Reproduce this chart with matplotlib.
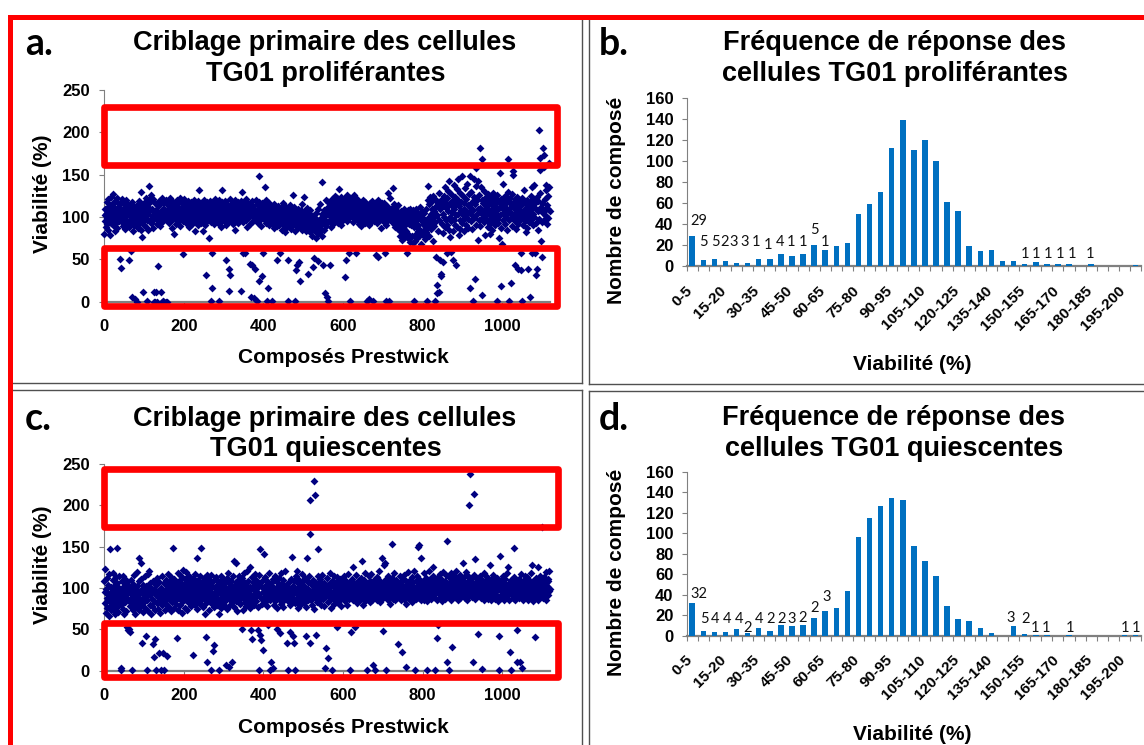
import numpy as np
import matplotlib
matplotlib.use('Agg')
import matplotlib.pyplot as plt
from matplotlib.patches import Rectangle
from matplotlib.lines import Line2D

plt.rcParams['font.family'] = ['Liberation Sans', 'DejaVu Sans']

# Viabilité (%) de chaque composé Prestwick, dans l'ordre du criblage
viab_prolif = [
    80, 102, 95, 110, 88, 104, 118, 92, 99, 85, 121, 107, 96, 113, 79, 101, 124, 93, 108, 98,
    115, 103, 90, 127, 97, 112, 84, 106, 119, 100, 93, 122, 109, 87, 116, 101, 95, 111, 104, 51,
    98, 117, 40, 105, 121, 94, 110, 89, 103, 118, 99, 114, 86, 107, 120, 96, 111, 102, 92, 115,
    104, 88, 109, 49, 97, 113, 60, 101, 93, 6, 118, 84, 106, 99, 112, 91, 108, 3, 96, 103,
    110, 94, 100, 0, 87, 115, 105, 92, 119, 98, 107, 130, 85, 111, 101, 76, 12, 109, 95, 116,
    102, 90, 114, 99, 123, 88, 106, 97, 1, 112, 104, 85, 120, 137, 96, 108, 118, 93, 126, 101,
    110, 95, 121, 87, 0, 104, 12, 116, 0, 99, 108, 12, 92, 0, 113, 102, 42, 119, 97, 106,
    89, 115, 12, 101, 123, 0, 94, 1, 110, 105, 0, 117, 98, 108, 120, 0, 103, 96, 0, 114,
    107, 118, 93, 111, 100, 122, 95, 109, 116, 87, 104, 119, 98, 113, 106, 80, 117, 101, 110, 92,
    115, 103, 120, 97, 108, 112, 94, 118, 105, 100, 123, 89, 111, 107, 99, 116, 102, 95, 56, 110,
    104, 121, 98, 113, 107, 93, 117, 101, 110, 96, 119, 105, 88, 112, 100, 115, 97, 108, 103, 118,
    92, 109, 114, 99, 106, 120, 95, 111, 84, 102, 116, 97, 108, 104, 113, 90, 119, 100, 107, 132,
    98, 111, 105, 117, 93, 109, 101, 114, 96, 83, 120, 106, 99, 112, 91, 31, 104, 118, 95, 108,
    102, 115, 97, 110, 75, 106, 119, 94, 1, 108, 16, 57, 113, 100, 117, 92, 105, 111, 98, 121,
    104, 96, 112, 108, 99, 116, 93, 107, 120, 1, 101, 114, 88, 109, 103, 118, 132, 95, 111, 100,
    106, 113, 97, 119, 102, 90, 110, 49, 104, 115, 94, 108, 99, 39, 13, 121, 32, 101, 112, 96,
    109, 103, 117, 92, 106, 114, 98, 111, 85, 120, 100, 107, 95, 116, 104, 110, 93, 118, 102, 108,
    97, 113, 105, 13, 119, 130, 101, 109, 57, 94, 115, 100, 107, 57, 112, 96, 121, 103, 88, 110,
    104, 117, 99, 108, 114, 92, 44, 106, 6, 111, 101, 119, 43, 95, 113, 103, 109, 4, 39, 98,
    120, 107, 100, 115, 1, 93, 110, 104, 118, 24, 148, 97, 112, 102, 108, 89, 30, 116, 99, 106,
    57, 114, 101, 135, 96, 109, 120, 93, 105, 111, 1, 98, 16, 117, 103, 90, 108, 113, 100, 95,
    106, 92, 1, 112, 99, 104, 87, 115, 97, 101, 110, 94, 108, 49, 100, 89, 113, 96, 105, 91,
    103, 57, 98, 111, 93, 106, 85, 100, 109, 95, 117, 90, 102, 97, 107, 82, 112, 99, 94, 104,
    88, 49, 1, 108, 101, 96, 114, 92, 103, 86, 110, 98, 105, 91, 100, 126, 95, 112, 84, 1,
    99, 106, 37, 93, 102, 43, 88, 110, 96, 104, 47, 90, 101, 24, 97, 108, 85, 94, 115, 92,
    103, 89, 124, 98, 95, 107, 84, 100, 93, 111, 87, 102, 96, 33, 91, 105, 99, 82, 108, 94,
    90, 85, 97, 78, 101, 41, 88, 52, 94, 83, 99, 75, 92, 105, 86, 96, 80, 110, 48, 91,
    87, 98, 115, 82, 95, 90, 141, 103, 77, 93, 43, 100, 85, 108, 10, 96, 120, 89, 104, 6,
    111, 94, 118, 1, 102, 106, 97, 43, 113, 88, 108, 121, 100, 115, 92, 104, 119, 98, 110, 125,
    103, 116, 96, 109, 122, 101, 112, 93, 107, 118, 133, 105, 99, 114, 124, 90, 110, 120, 102, 117,
    108, 97, 121, 113, 104, 29, 115, 49, 100, 126, 110, 95, 119, 106, 112, 99, 57, 1, 123, 103,
    116, 108, 101, 120, 94, 113, 105, 118, 126, 99, 110, 102, 57, 115, 107, 96, 121, 104, 111, 92,
    106, 117, 99, 112, 103, 89, 115, 108, 95, 120, 101, 111, 97, 106, 118, 93, 104, 113, 100, 1,
    109, 96, 114, 102, 107, 91, 3, 117, 100, 110, 94, 105, 119, 98, 112, 103, 1, 108, 95, 116,
    101, 113, 97, 106, 55, 111, 93, 104, 53, 120, 99, 108, 115, 96, 102, 109, 87, 117, 105, 100,
    112, 98, 107, 94, 116, 57, 103, 110, 91, 1, 105, 113, 128, 100, 96, 1, 109, 102, 122, 97,
    108, 104, 95, 111, 99, 106, 134, 92, 115, 101, 88, 109, 97, 112, 103, 93, 107, 100, 86, 114,
    96, 85, 102, 91, 78, 107, 88, 99, 73, 94, 104, 82, 90, 110, 86, 97, 76, 92, 100, 84,
    57, 105, 80, 99, 108, 74, 92, 96, 110, 71, 90, 103, 101, 77, 94, 108, 69, 96, 88, 1,
    95, 103, 72, 109, 80, 98, 75, 105, 83, 90, 101, 86, 78, 112, 84, 100, 68, 97, 81, 107,
    92, 79, 98, 85, 105, 74, 89, 96, 82, 110, 1, 93, 87, 120, 137, 100, 77, 115, 91, 124,
    103, 86, 118, 95, 110, 72, 125, 99, 107, 89, 121, 1, 94, 113, 53, 10, 102, 20, 116, 83,
    128, 12, 97, 109, 49, 120, 30, 33, 92, 114, 104, 81, 47, 125, 100, 88, 118, 135, 96, 111,
    58, 122, 90, 107, 131, 143, 85, 115, 100, 76, 127, 59, 95, 119, 106, 83, 112, 49, 138, 97,
    109, 124, 91, 116, 102, 43, 133, 88, 145, 104, 120, 79, 113, 97, 128, 86, 108, 118, 93, 103,
    148, 96, 125, 110, 84, 117, 134, 99, 107, 90, 121, 103, 139, 87, 114, 98, 127, 106, 148, 16,
    112, 95, 130, 102, 118, 86, 108, 1, 124, 99, 145, 27, 115, 91, 137, 158, 104, 120, 73, 110,
    143, 97, 126, 111, 89, 181, 135, 105, 168, 8, 120, 100, 116, 131, 94, 108, 79, 123, 113, 102,
    118, 96, 109, 127, 88, 114, 103, 121, 92, 106, 80, 115, 99, 124, 110, 85, 119, 101, 128, 95,
    107, 122, 90, 113, 104, 117, 98, 126, 1, 109, 93, 119, 75, 111, 152, 102, 121, 87, 18, 114,
    68, 105, 139, 96, 116, 108, 125, 92, 112, 100, 120, 85, 118, 103, 130, 168, 97, 110, 1, 123,
    106, 115, 22, 99, 127, 89, 154, 112, 150, 104, 118, 95, 43, 121, 108, 86, 114, 101, 124, 92,
    39, 110, 103, 119, 97, 113, 37, 57, 106, 1, 122, 91, 116, 100, 108, 132, 95, 117, 104, 82,
    111, 99, 120, 87, 107, 39, 115, 102, 94, 118, 5, 109, 125, 97, 57, 113, 136, 104, 90, 121,
    100, 138, 57, 116, 93, 31, 110, 39, 124, 85, 107, 119, 203, 98, 128, 170, 155, 72, 112, 94,
    117, 53, 105, 181, 159, 173, 96, 121, 108, 132, 138, 101, 114, 92, 125, 110, 99, 135, 164, 107,
]

viab_quiesc = [
    108, 95, 82, 123, 70, 99, 88, 112, 76, 93, 104, 66, 85, 117, 147, 90, 79, 101, 73, 96,
    86, 110, 118, 74, 92, 102, 68, 97, 81, 113, 89, 148, 77, 106, 94, 71, 100, 84, 115, 90,
    98, 3, 80, 1, 108, 87, 114, 75, 95, 103, 69, 91, 111, 83, 99, 72, 107, 88, 53, 96,
    49, 84, 50, 101, 47, 78, 93, 110, 86, 1, 97, 74, 105, 89, 81, 116, 92, 68, 100, 85,
    77, 103, 90, 119, 82, 96, 108, 136, 73, 94, 86, 111, 130, 79, 34, 99, 88, 104, 71, 92,
    83, 97, 114, 76, 89, 42, 102, 85, 1, 93, 72, 117, 98, 121, 80, 106, 91, 68, 100, 87,
    95, 78, 109, 32, 84, 99, 17, 38, 73, 1, 91, 104, 82, 112, 89, 75, 96, 22, 107, 86,
    93, 70, 100, 1, 88, 115, 79, 21, 97, 84, 1, 106, 74, 92, 110, 81, 99, 87, 18, 103,
    90, 117, 77, 95, 108, 86, 101, 72, 113, 94, 83, 104, 89, 148, 98, 76, 111, 92, 85, 100,
    107, 81, 39, 96, 118, 88, 74, 103, 93, 110, 79, 99, 86, 114, 91, 70, 105, 97, 84, 122,
    89, 102, 76, 111, 94, 85, 119, 98, 73, 107, 90, 100, 82, 115, 96, 87, 104, 78, 109, 93,
    101, 84, 97, 112, 19, 90, 106, 79, 95, 117, 88, 103, 75, 99, 136, 92, 110, 83, 97, 105,
    86, 114, 95, 80, 149, 101, 91, 108, 77, 98, 112, 87, 69, 104, 93, 41, 82, 100, 116, 10,
    89, 106, 74, 97, 110, 85, 99, 1, 92, 116, 81, 103, 24, 90, 108, 77, 31, 95, 100, 86,
    113, 91, 79, 104, 96, 87, 109, 68, 98, 1, 83, 101, 93, 115, 76, 106, 89, 97, 84, 111,
    94, 102, 80, 107, 91, 98, 86, 7, 112, 75, 100, 93, 118, 5, 88, 96, 105, 79, 92, 108,
    83, 99, 11, 114, 90, 103, 133, 77, 95, 88, 130, 107, 84, 101, 72, 97, 110, 91, 86, 115,
    99, 81, 104, 93, 89, 51, 112, 96, 74, 108, 87, 100, 118, 83, 95, 106, 78, 92, 102, 121,
    88, 97, 109, 82, 94, 126, 101, 76, 49, 90, 113, 85, 38, 99, 107, 93, 80, 104, 117, 89,
    96, 84, 110, 91, 100, 77, 105, 49, 93, 116, 1, 147, 43, 88, 37, 102, 81, 108, 95, 86,
    25, 99, 141, 90, 113, 83, 104, 94, 78, 109, 97, 87, 55, 101, 92, 118, 1, 85, 106, 96,
    10, 89, 103, 3, 95, 111, 80, 98, 90, 115, 84, 100, 93, 51, 107, 76, 97, 88, 112, 92,
    103, 46, 86, 99, 118, 81, 94, 105, 90, 77, 110, 96, 85, 101, 92, 120, 88, 104, 33, 97,
    91, 84, 1, 107, 95, 100, 79, 47, 111, 89, 98, 137, 86, 103, 93, 42, 108, 33, 82, 1,
    95, 114, 87, 99, 120, 83, 106, 92, 76, 110, 97, 88, 104, 80, 101, 93, 117, 85, 98, 109,
    90, 103, 82, 96, 112, 88, 100, 77, 42, 94, 136, 107, 85, 99, 91, 115, 33, 165, 206, 93,
    86, 104, 97, 80, 110, 92, 101, 75, 229, 212, 95, 88, 43, 106, 99, 83, 114, 90, 147, 102,
    93, 108, 85, 111, 97, 80, 103, 91, 116, 87, 100, 78, 106, 95, 89, 3, 27, 104, 92, 99,
    112, 15, 83, 97, 105, 90, 118, 86, 101, 94, 76, 1, 109, 93, 88, 103, 97, 81, 115, 92,
    100, 87, 107, 95, 113, 53, 90, 98, 82, 104, 96, 89, 111, 85, 102, 93, 78, 108, 99, 91,
    95, 106, 88, 114, 92, 101, 84, 98, 109, 90, 103, 79, 96, 117, 87, 100, 93, 1, 107, 47,
    102, 89, 98, 111, 94, 85, 125, 97, 106, 91, 53, 103, 88, 116, 95, 100, 82, 108, 93, 99,
    90, 104, 97, 86, 112, 101, 93, 133, 88, 107, 95, 80, 110, 99, 91, 118, 84, 103, 96, 1,
    105, 92, 99, 87, 114, 96, 101, 83, 108, 94, 90, 117, 98, 86, 104, 93, 7, 110, 89, 100,
    1, 95, 107, 91, 102, 85, 113, 97, 88, 104, 99, 120, 92, 83, 109, 96, 101, 87, 94, 136,
    106, 48, 97, 128, 93, 130, 100, 89, 111, 1, 95, 103, 86, 115, 98, 92, 107, 81, 101, 94,
    90, 104, 112, 96, 153, 87, 99, 108, 93, 118, 85, 101, 95, 110, 88, 97, 106, 91, 103, 32,
    97, 89, 114, 100, 92, 107, 85, 23, 103, 96, 111, 90, 99, 87, 116, 94, 102, 81, 4, 108,
    93, 105, 98, 88, 119, 95, 101, 86, 110, 97, 91, 104, 83, 100, 113, 92, 107, 96, 89, 121,
    99, 1, 94, 108, 87, 102, 96, 115, 91, 150, 104, 152, 88, 97, 110, 93, 136, 85, 101, 106,
    92, 109, 98, 86, 118, 95, 103, 90, 112, 97, 84, 1, 100, 107, 93, 120, 88, 104, 96, 111,
    94, 101, 87, 108, 99, 115, 125, 92, 104, 89, 97, 110, 1, 95, 103, 40, 86, 112, 98, 55,
    106, 93, 100, 117, 88, 102, 95, 111, 84, 98, 107, 91, 119, 96, 103, 87, 109, 94, 100, 116,
    157, 10, 92, 105, 98, 113, 89, 1, 101, 95, 108, 86, 118, 29, 97, 104, 91, 110, 99, 93,
    106, 89, 114, 97, 102, 120, 93, 108, 85, 100, 111, 96, 104, 88, 116, 99, 92, 107, 101, 95,
    110, 97, 130, 91, 104, 113, 88, 101, 96, 119, 93, 107, 85, 102, 115, 99, 90, 200, 238, 106,
    94, 103, 111, 89, 98, 107, 92, 10, 116, 214, 100, 135, 87, 105, 96, 112, 91, 101, 108, 95,
    44, 99, 106, 90, 114, 97, 103, 88, 110, 95, 2, 101, 93, 118, 86, 104, 98, 109, 92, 100,
    105, 91, 113, 96, 102, 87, 108, 99, 94, 128, 90, 103, 85, 111, 97, 106, 100, 89, 116, 93,
    101, 95, 108, 87, 104, 92, 112, 98, 90, 106, 84, 1, 42, 99, 139, 103, 88, 110, 96, 93,
    100, 107, 91, 115, 97, 86, 104, 93, 111, 98, 89, 102, 95, 118, 92, 126, 99, 106, 85, 23,
    103, 94, 110, 1, 97, 108, 88, 101, 96, 149, 113, 90, 104, 86, 99, 107, 10, 93, 49, 101,
    95, 111, 88, 102, 10, 98, 106, 91, 117, 3, 100, 93, 109, 85, 104, 97, 114, 89, 101, 96,
    107, 92, 99, 113, 86, 104, 95, 110, 90, 101, 97, 118, 88, 106, 93, 128, 99, 84, 109, 96,
    102, 91, 41, 105, 97, 112, 89, 100, 94, 108, 86, 126, 98, 103, 92, 115, 96, 107, 90, 101,
    174, 95, 110, 88, 104, 97, 113, 92, 100, 106, 85, 119, 94, 102, 108, 91, 111, 97, 121, 99,
]

# Histogrammes : nombre de composés par classe de viabilité (41 classes de 5 %)
freq_prolif = [29, 6, 7, 5, 3, 3, 7, 7, 11, 10, 11, 20, 15, 19, 22, 50, 59, 71, 113, 139,
               111, 120, 100, 61, 52, 19, 14, 15, 5, 5, 2, 4, 2, 2, 2, 0, 2, 0, 0, 0, 1]
freq_quiesc = [32, 5, 4, 4, 7, 3, 8, 5, 10, 9, 10, 17, 24, 27, 44, 96, 115, 127, 134, 132,
               88, 73, 58, 29, 16, 14, 8, 3, 0, 9, 2, 1, 1, 0, 1, 0, 0, 0, 0, 1, 1]
classes_shown = ['0-5', '15-20', '30-35', '45-50', '60-65', '75-80', '90-95', '105-110',
                 '120-125', '135-140', '150-155', '165-170', '180-185', '195-200']

# étiquettes ajoutées au-dessus des barres (texte, puis position x / y)
lab_prolif = ['29', '5', '5', '2', '3', '3', '1', '1', '4', '1', '1', '5', '1',
              '1', '1', '1', '1', '1', '1']
lab_prolif_x = [0.6, 1.05, 2.05, 2.9, 3.7, 4.75, 5.75, 6.8, 7.9, 8.95, 10, 11, 12,
                30.05, 31.05, 32.1, 33.2, 34.3, 35.9]
lab_prolif_y = [43, 22.6, 22.6, 22.6, 22.6, 22.6, 22.6, 20, 22.6, 22.6, 22.6, 34.4, 22.6,
                11.5, 11.5, 11.5, 11.5, 11.5, 11.5]
lab_quiesc = ['32', '5', '4', '4', '4', '2', '4', '2', '2', '3', '2', '2', '3',
              '3', '2', '1', '1', '1', '1', '1']
lab_quiesc_x = [0.57, 1.08, 2.08, 3.16, 4.24, 4.99, 6.05, 7.1, 8.09, 8.99, 9.98, 11.04, 12.09,
                28.78, 30.1, 30.95, 31.94, 34.05, 39.04, 40.06]
lab_quiesc_y = [40.6, 16.3, 16.3, 16.3, 16.3, 7.2, 16.3, 16.3, 16.3, 16.3, 17.5, 26.7, 37.4,
                17.6, 16.3, 7.2, 7.2, 7.2, 7.2, 7.2]

W, H = 1144, 745
NAVY = '#000080'
BLUE = '#0070C0'
RED = '#FF0000'
GREY = '#808080'

fig = plt.figure(figsize=(W / 100, H / 100), dpi=100)


def fx(px):
    return px / W


def fy(py):
    return 1 - py / H


def ax_rect(left, top, right, bottom):
    return [fx(left), fy(bottom), (right - left) / W, (bottom - top) / H]


def style_axes(ax):
    for s in ['top', 'right']:
        ax.spines[s].set_visible(False)
    ax.spines['left'].set_color(GREY)
    ax.spines['left'].set_linewidth(0.8)
    ax.spines['bottom'].set_color(GREY)
    ax.spines['bottom'].set_linewidth(1.6)
    ax.tick_params(axis='both', colors='black', labelsize=12, direction='out', length=3.5, width=0.8)
    ax.tick_params(axis='both', which='both', color=GREY)
    for lab in ax.get_yticklabels():
        lab.set_fontweight('bold')


def scatter_panel(rect, values, boxes):
    ax = fig.add_axes(rect)
    ax.scatter(np.arange(len(values)), values, s=16, marker='D', color=NAVY,
               linewidths=0, clip_on=False, zorder=3)
    ax.set_xlim(0, 1120)
    ax.set_ylim(0, 250)
    ax.set_xticks(range(0, 1001, 200))
    ax.set_yticks(range(0, 251, 50))
    style_axes(ax)
    ax.tick_params(axis='x', pad=9)
    ax.tick_params(axis='y', pad=7)
    for lab in ax.get_xticklabels():
        lab.set_fontweight('bold')
    for (x0, y0, x1, y1) in boxes:
        ax.add_patch(Rectangle((x0, y0), x1 - x0, y1 - y0, fill=False, ec=RED, lw=4.8,
                               joinstyle='round', clip_on=False, zorder=5))
    return ax


def hist_panel(rect, counts, labels, lab_x, lab_y):
    ax = fig.add_axes(rect)
    pos = np.arange(len(counts))
    ax.bar(pos, counts, width=0.5, color=BLUE, zorder=3)
    ax.set_xlim(-0.5, len(counts) - 0.5)
    ax.set_ylim(0, 160)
    ax.set_yticks(range(0, 161, 20))
    ax.set_xticks(np.arange(0, len(counts), 3) - 0.15, classes_shown)
    ax.set_xticks(np.arange(-0.5, len(counts), 1), minor=True)
    style_axes(ax)
    ax.tick_params(axis='x', which='major', length=0, pad=16)
    ax.tick_params(axis='x', which='minor', length=3.5, width=0.8, color=GREY)
    ax.tick_params(axis='y', pad=6)
    for lab in ax.get_xticklabels():
        lab.set_rotation(45)
        lab.set_ha('right')
        lab.set_va('center')
        lab.set_rotation_mode('anchor')
        lab.set_fontsize(11)
        lab.set_fontweight('bold')
    for t, x, y in zip(labels, lab_x, lab_y):
        ax.text(x, y, t, ha='center', va='center', fontsize=10.5,
                family=['Lato', 'DejaVu Sans'], color='#111111')
    return ax


# panneaux a et c : criblage primaire
scatter_panel(ax_rect(104.3, 90, 550, 301.7), viab_prolif,
              [(0, 161.4, 1138, 229.6), (0, -4.7, 1138, 63.8)])
scatter_panel(ax_rect(104.3, 464, 550, 670.7), viab_quiesc,
              [(0, 174, 1140, 243.6), (0, -7.3, 1140, 57.3)])

# panneaux b et d : fréquences
hist_panel(ax_rect(686.7, 98.3, 1141, 266), freq_prolif, lab_prolif, lab_prolif_x, lab_prolif_y)
hist_panel(ax_rect(686.7, 471.7, 1141, 635.7), freq_quiesc, lab_quiesc, lab_quiesc_x, lab_quiesc_y)

# titres
title_kw = dict(ha='center', va='baseline', fontsize=19.5, fontweight='bold')
fig.text(fx(325), fy(49.5), 'Criblage primaire des cellules', **title_kw)
fig.text(fx(326), fy(81), 'TG01 proliférantes', **title_kw)
fig.text(fx(895), fy(49.5), 'Fréquence de réponse des', **title_kw)
fig.text(fx(895), fy(81), 'cellules TG01 proliférantes', **title_kw)
fig.text(fx(325), fy(426), 'Criblage primaire des cellules', **title_kw)
fig.text(fx(326), fy(456), 'TG01 quiescentes', **title_kw)
fig.text(fx(894), fy(425), 'Fréquence de réponse des', **title_kw)
fig.text(fx(894), fy(456), 'cellules TG01 quiescentes', **title_kw)

# lettres des panneaux
letter_kw = dict(ha='left', va='baseline', fontsize=27, fontweight='bold',
                 family=['Lato', 'DejaVu Sans'])
fig.text(fx(25), fy(55), 'a.', **letter_kw)
fig.text(fx(599), fy(55), 'b.', **letter_kw)
fig.text(fx(25), fy(430), 'c.', **letter_kw)
fig.text(fx(599), fy(430), 'd.', **letter_kw)

# titres des axes
lab_kw = dict(fontsize=15, fontweight='bold')
fig.text(fx(42), fy(194), 'Viabilité (%)', rotation=90, ha='center', va='center', **lab_kw)
fig.text(fx(42), fy(565), 'Viabilité (%)', rotation=90, ha='center', va='center', **lab_kw)
fig.text(fx(343), fy(363), 'Composés Prestwick', ha='center', va='baseline', **lab_kw)
fig.text(fx(343), fy(733), 'Composés Prestwick', ha='center', va='baseline', **lab_kw)
fig.text(fx(617), fy(200), 'Nombre de composé', rotation=90, ha='center', va='center', **lab_kw)
fig.text(fx(617), fy(572), 'Nombre de composé', rotation=90, ha='center', va='center', **lab_kw)
fig.text(fx(912), fy(370), 'Viabilité (%)', ha='center', va='baseline', **lab_kw)
fig.text(fx(912), fy(740), 'Viabilité (%)', ha='center', va='baseline', **lab_kw)

# cadres des quatre graphiques
frame = [((582.3, 582.3), (19, 383)), ((12, 582.3), (383, 383)),
         ((588.7, 588.7), (19, 384)), ((588.7, 1144), (383.7, 383.7)),
         ((12, 582.3), (390.3, 390.3)), ((582.3, 582.3), (390.3, 745)),
         ((588.7, 588.7), (390.7, 745)), ((588.7, 1144), (390.7, 390.7))]
for xs, ys in frame:
    fig.add_artist(Line2D([fx(v) for v in xs], [fy(v) for v in ys], color='#505050', lw=1.0))

# cadre rouge extérieur
fig.add_artist(Line2D([fx(9.8), fx(1144)], [fy(16.5), fy(16.5)], color=RED, lw=3.6,
                      solid_capstyle='projecting'))
fig.add_artist(Line2D([fx(9.8), fx(9.8)], [fy(16.5), fy(745)], color=RED, lw=3.6,
                      solid_capstyle='projecting'))

fig.savefig('out.png', dpi=100)
